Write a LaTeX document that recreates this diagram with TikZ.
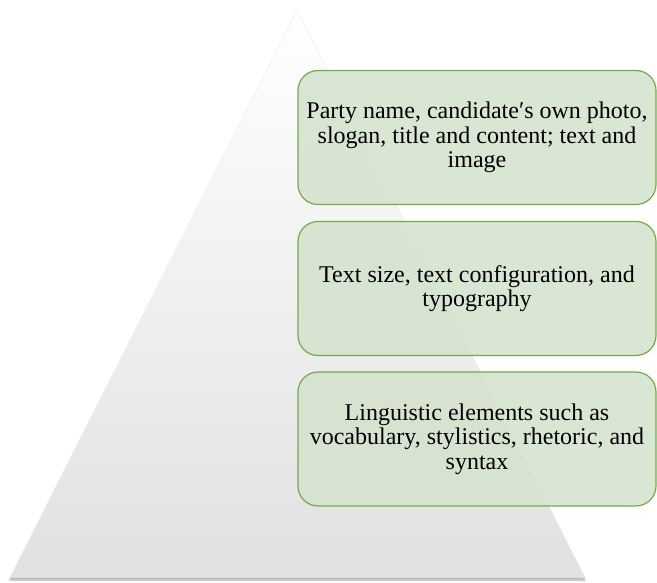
\documentclass[tikz,border=0pt]{standalone}
\usepackage{fontspec}
\setmainfont{Liberation Serif}
\usetikzlibrary{shadows.blur}
\definecolor{boxfill}{HTML}{D5E3CE}
\definecolor{boxline}{HTML}{70AD47}
\begin{document}
\begin{tikzpicture}[x=1pt, y=1pt,
    layerbox/.style={draw=boxline, line width=1.2pt, fill=boxfill, fill opacity=0.9,
        text opacity=1, rounded corners=20pt, minimum width=358pt, minimum height=134pt,
        align=center, inner sep=2pt, font=\fontsize{24}{24.5}\selectfont}]
    \useasboundingbox (0, 0) rectangle (657, 582);

    % pyramid
    \coordinate (top)   at (297, 571);
    \coordinate (left)  at (10, 4);
    \coordinate (right) at (585, 4);
    \shade[top color=white, middle color=black!4, bottom color=black!12,
        blur shadow={shadow xshift=0pt, shadow yshift=-2pt, shadow blur steps=6, shadow opacity=35}]
        (top) -- (right) -- (left) -- cycle;

    % layers
    \node[layerbox] at (477, 444.5) (names)
        {Party name, candidate′s own photo,\\ slogan, title and content; text and\\ image};
    \node[layerbox] at (477, 293.5) (size)
        {Text size, text configuration, and\\ typography};
    \node[layerbox] at (477, 143)   (ling)
        {Linguistic elements such as\\ vocabulary, stylistics, rhetoric, and\\ syntax};
\end{tikzpicture}
\end{document}
